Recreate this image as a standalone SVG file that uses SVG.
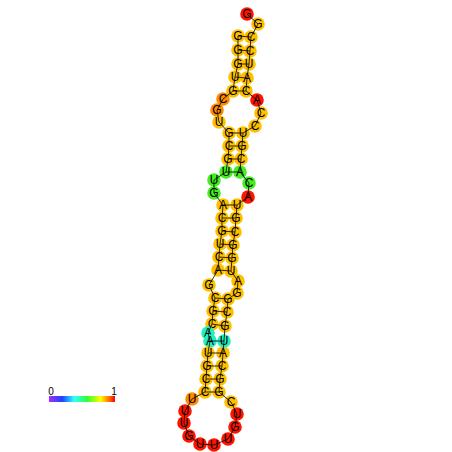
<svg xmlns="http://www.w3.org/2000/svg" width="452" height="452" viewBox="0 0 452 452">
<defs>
<linearGradient id="bar" x1="0" y1="0" x2="1" y2="0">
<stop offset="0" stop-color="#a030ff"/>
<stop offset="0.2" stop-color="#2040ff"/>
<stop offset="0.38" stop-color="#30ffff"/>
<stop offset="0.58" stop-color="#30ff30"/>
<stop offset="0.78" stop-color="#ffff00"/>
<stop offset="0.9" stop-color="#ff8000"/>
<stop offset="1" stop-color="#ff0000"/>
</linearGradient>
</defs>
<style>
circle{stroke:none}
.y{fill:#ffc000}
.o{fill:#ff8a00}
.r{fill:#ff1400}
.g{fill:#44ee22}
.t{fill:#22eec0}
text{font-family:"Liberation Sans",Arial,sans-serif;font-size:12px;text-anchor:middle;dominant-baseline:central;fill:#000}
#connectors line{stroke:#000;stroke-width:0.8}
.lab{font-size:10px;dominant-baseline:auto}
</style>
<rect width="452" height="452" fill="#fff"/>
<g id="nodes">
<g id="n1"><circle class="y" cx="238" cy="36" r="6.8"/><text x="238" y="36">G</text></g>
<g id="n2"><circle class="y" cx="238" cy="50" r="6.8"/><text x="238" y="50">G</text></g>
<g id="n3"><circle class="y" cx="238" cy="64" r="6.8"/><text x="238" y="64">G</text></g>
<g id="n4"><circle class="y" cx="235" cy="77" r="6.8"/><text x="235" y="77">U</text></g>
<g id="n5"><circle class="y" cx="233" cy="91" r="6.8"/><text x="233" y="91">G</text></g>
<g id="n6"><circle class="o" cx="223" cy="99" r="6.8"/><text x="223" y="99">C</text></g>
<g id="n7"><circle class="o" cx="217" cy="110" r="6.8"/><text x="217" y="110">G</text></g>
<g id="n8"><circle class="y" cx="219" cy="122" r="6.8"/><text x="219" y="122">U</text></g>
<g id="n9"><circle class="y" cx="229" cy="133" r="6.8"/><text x="229" y="133">G</text></g>
<g id="n10"><circle class="y" cx="229" cy="146" r="6.8"/><text x="229" y="146">C</text></g>
<g id="n11"><circle class="y" cx="228" cy="159" r="6.8"/><text x="228" y="159">G</text></g>
<g id="n12"><circle class="g" cx="226" cy="172" r="6.8"/><text x="226" y="172">U</text></g>
<g id="n13"><circle class="g" cx="214" cy="180" r="6.8"/><text x="214" y="180">U</text></g>
<g id="n14"><circle class="g" cx="214" cy="193" r="6.8"/><text x="214" y="193">G</text></g>
<g id="n15"><circle class="y" cx="223" cy="205" r="6.8"/><text x="223" y="205">A</text></g>
<g id="n16"><circle class="y" cx="222" cy="218" r="6.8"/><text x="222" y="218">C</text></g>
<g id="n17"><circle class="y" cx="222" cy="231" r="6.8"/><text x="222" y="231">G</text></g>
<g id="n18"><circle class="y" cx="220" cy="244" r="6.8"/><text x="220" y="244">U</text></g>
<g id="n19"><circle class="y" cx="219" cy="257" r="6.8"/><text x="219" y="257">C</text></g>
<g id="n20"><circle class="y" cx="218" cy="270" r="6.8"/><text x="218" y="270">A</text></g>
<g id="n21"><circle class="y" cx="209" cy="285" r="6.8"/><text x="209" y="285">G</text></g>
<g id="n22"><circle class="y" cx="215" cy="298" r="6.8"/><text x="215" y="298">C</text></g>
<g id="n23"><circle class="y" cx="213" cy="311" r="6.8"/><text x="213" y="311">G</text></g>
<g id="n24"><circle class="y" cx="212" cy="324" r="6.8"/><text x="212" y="324">C</text></g>
<g id="n25"><circle class="t" cx="208" cy="333" r="6.8"/><text x="208" y="333">A</text></g>
<g id="n26"><circle class="t" cx="210" cy="341" r="6.8"/><text x="210" y="341">A</text></g>
<g id="n27"><circle class="y" cx="208" cy="353" r="6.8"/><text x="208" y="353">U</text></g>
<g id="n28"><circle class="y" cx="207" cy="366" r="6.8"/><text x="207" y="366">G</text></g>
<g id="n29"><circle class="y" cx="206" cy="379" r="6.8"/><text x="206" y="379">C</text></g>
<g id="n30"><circle class="y" cx="205" cy="392" r="6.8"/><text x="205" y="392">C</text></g>
<g id="n31"><circle class="o" cx="192" cy="399" r="6.8"/><text x="192" y="399">U</text></g>
<g id="n32"><circle class="r" cx="185" cy="411" r="6.8"/><text x="185" y="411">U</text></g>
<g id="n33"><circle class="r" cx="184" cy="423" r="6.8"/><text x="184" y="423">U</text></g>
<g id="n34"><circle class="r" cx="189" cy="436" r="6.8"/><text x="189" y="436">G</text></g>
<g id="n35"><circle class="r" cx="200" cy="444" r="6.8"/><text x="200" y="444">U</text></g>
<g id="n36"><circle class="r" cx="214" cy="445" r="6.8"/><text x="214" y="445">U</text></g>
<g id="n37"><circle class="r" cx="228" cy="439" r="6.8"/><text x="228" y="439">U</text></g>
<g id="n38"><circle class="r" cx="235" cy="427" r="6.8"/><text x="235" y="427">G</text></g>
<g id="n39"><circle class="r" cx="237" cy="414" r="6.8"/><text x="237" y="414">U</text></g>
<g id="n40"><circle class="y" cx="231" cy="402" r="6.8"/><text x="231" y="402">C</text></g>
<g id="n41"><circle class="y" cx="219" cy="392" r="6.8"/><text x="219" y="392">G</text></g>
<g id="n42"><circle class="y" cx="220" cy="379" r="6.8"/><text x="220" y="379">G</text></g>
<g id="n43"><circle class="y" cx="222" cy="366" r="6.8"/><text x="222" y="366">C</text></g>
<g id="n44"><circle class="y" cx="223" cy="353" r="6.8"/><text x="223" y="353">A</text></g>
<g id="n45"><circle class="t" cx="224" cy="341" r="6.8"/><text x="224" y="341">U</text></g>
<g id="n46"><circle class="y" cx="225" cy="326" r="6.8"/><text x="225" y="326">G</text></g>
<g id="n47"><circle class="y" cx="227" cy="312" r="6.8"/><text x="227" y="312">C</text></g>
<g id="n48"><circle class="y" cx="228" cy="299" r="6.8"/><text x="228" y="299">G</text></g>
<g id="n49"><circle class="y" cx="237" cy="293" r="6.8"/><text x="237" y="293">G</text></g>
<g id="n50"><circle class="y" cx="238" cy="281" r="6.8"/><text x="238" y="281">A</text></g>
<g id="n51"><circle class="y" cx="231" cy="271" r="6.8"/><text x="231" y="271">U</text></g>
<g id="n52"><circle class="y" cx="232" cy="258" r="6.8"/><text x="232" y="258">G</text></g>
<g id="n53"><circle class="y" cx="233" cy="245" r="6.8"/><text x="233" y="245">G</text></g>
<g id="n54"><circle class="y" cx="235" cy="232" r="6.8"/><text x="235" y="232">C</text></g>
<g id="n55"><circle class="y" cx="236" cy="218" r="6.8"/><text x="236" y="218">G</text></g>
<g id="n56"><circle class="y" cx="237" cy="205" r="6.8"/><text x="237" y="205">U</text></g>
<g id="n57"><circle class="r" cx="248" cy="197" r="6.8"/><text x="248" y="197">A</text></g>
<g id="n58"><circle class="g" cx="249" cy="183" r="6.8"/><text x="249" y="183">C</text></g>
<g id="n59"><circle class="g" cx="240" cy="172" r="6.8"/><text x="240" y="172">A</text></g>
<g id="n60"><circle class="y" cx="241" cy="159" r="6.8"/><text x="241" y="159">C</text></g>
<g id="n61"><circle class="y" cx="242" cy="146" r="6.8"/><text x="242" y="146">G</text></g>
<g id="n62"><circle class="y" cx="243" cy="133" r="6.8"/><text x="243" y="133">U</text></g>
<g id="n63"><circle class="y" cx="255" cy="126" r="6.8"/><text x="255" y="126">C</text></g>
<g id="n64"><circle class="y" cx="261" cy="113" r="6.8"/><text x="261" y="113">C</text></g>
<g id="n65"><circle class="r" cx="257" cy="100" r="6.8"/><text x="257" y="100">A</text></g>
<g id="n66"><circle class="y" cx="246" cy="91" r="6.8"/><text x="246" y="91">C</text></g>
<g id="n67"><circle class="y" cx="247" cy="78" r="6.8"/><text x="247" y="78">A</text></g>
<g id="n68"><circle class="y" cx="249" cy="64" r="6.8"/><text x="249" y="64">U</text></g>
<g id="n69"><circle class="y" cx="250" cy="51" r="6.8"/><text x="250" y="51">C</text></g>
<g id="n70"><circle class="y" cx="251" cy="37" r="6.8"/><text x="251" y="37">C</text></g>
<g id="n71"><circle class="y" cx="258" cy="24" r="6.8"/><text x="258" y="24">G</text></g>
<g id="n72"><circle class="r" cx="247" cy="14" r="6.8"/><text x="247" y="14">G</text></g>
</g>
<g id="connectors">
<polyline fill="none" stroke="#000" stroke-width="0.8" points="238,36 238,50 238,64 235,77 233,91 223,99 217,110 219,122 229,133 229,146 228,159 226,172 214,180 214,193 223,205 222,218 222,231 220,244 219,257 218,270 209,285 215,298 213,311 212,324 208,333 210,341 208,353 207,366 206,379 205,392 192,399 185,411 184,423 189,436 200,444 214,445 228,439 235,427 237,414 231,402 219,392 220,379 222,366 223,353 224,341 225,326 227,312 228,299 237,293 238,281 231,271 232,258 233,245 235,232 236,218 237,205 248,197 249,183 240,172 241,159 242,146 243,133 255,126 261,113 257,100 246,91 247,78 249,64 250,51 251,37 258,24 247,14"/>
<line x1="238" y1="36" x2="251" y2="37"/>
<line x1="238" y1="50" x2="250" y2="51"/>
<line x1="238" y1="64" x2="249" y2="64"/>
<line x1="235" y1="77" x2="247" y2="78"/>
<line x1="233" y1="91" x2="246" y2="91"/>
<line x1="229" y1="133" x2="243" y2="133"/>
<line x1="229" y1="146" x2="242" y2="146"/>
<line x1="228" y1="159" x2="241" y2="159"/>
<line x1="226" y1="172" x2="240" y2="172"/>
<line x1="223" y1="205" x2="237" y2="205"/>
<line x1="222" y1="218" x2="236" y2="218"/>
<line x1="222" y1="231" x2="235" y2="232"/>
<line x1="220" y1="244" x2="233" y2="245"/>
<line x1="219" y1="257" x2="232" y2="258"/>
<line x1="218" y1="270" x2="231" y2="271"/>
<line x1="215" y1="298" x2="228" y2="299"/>
<line x1="213" y1="311" x2="227" y2="312"/>
<line x1="212" y1="324" x2="225" y2="326"/>
<line x1="210" y1="341" x2="224" y2="341"/>
<line x1="208" y1="353" x2="223" y2="353"/>
<line x1="207" y1="366" x2="222" y2="366"/>
<line x1="206" y1="379" x2="220" y2="379"/>
<line x1="205" y1="392" x2="219" y2="392"/>
</g>
<g id="legend">
<rect x="49" y="396" width="66" height="6" fill="url(#bar)"/>
<text class="lab" x="51" y="395">0</text>
<text class="lab" x="114" y="395">1</text>
</g>
</svg>
